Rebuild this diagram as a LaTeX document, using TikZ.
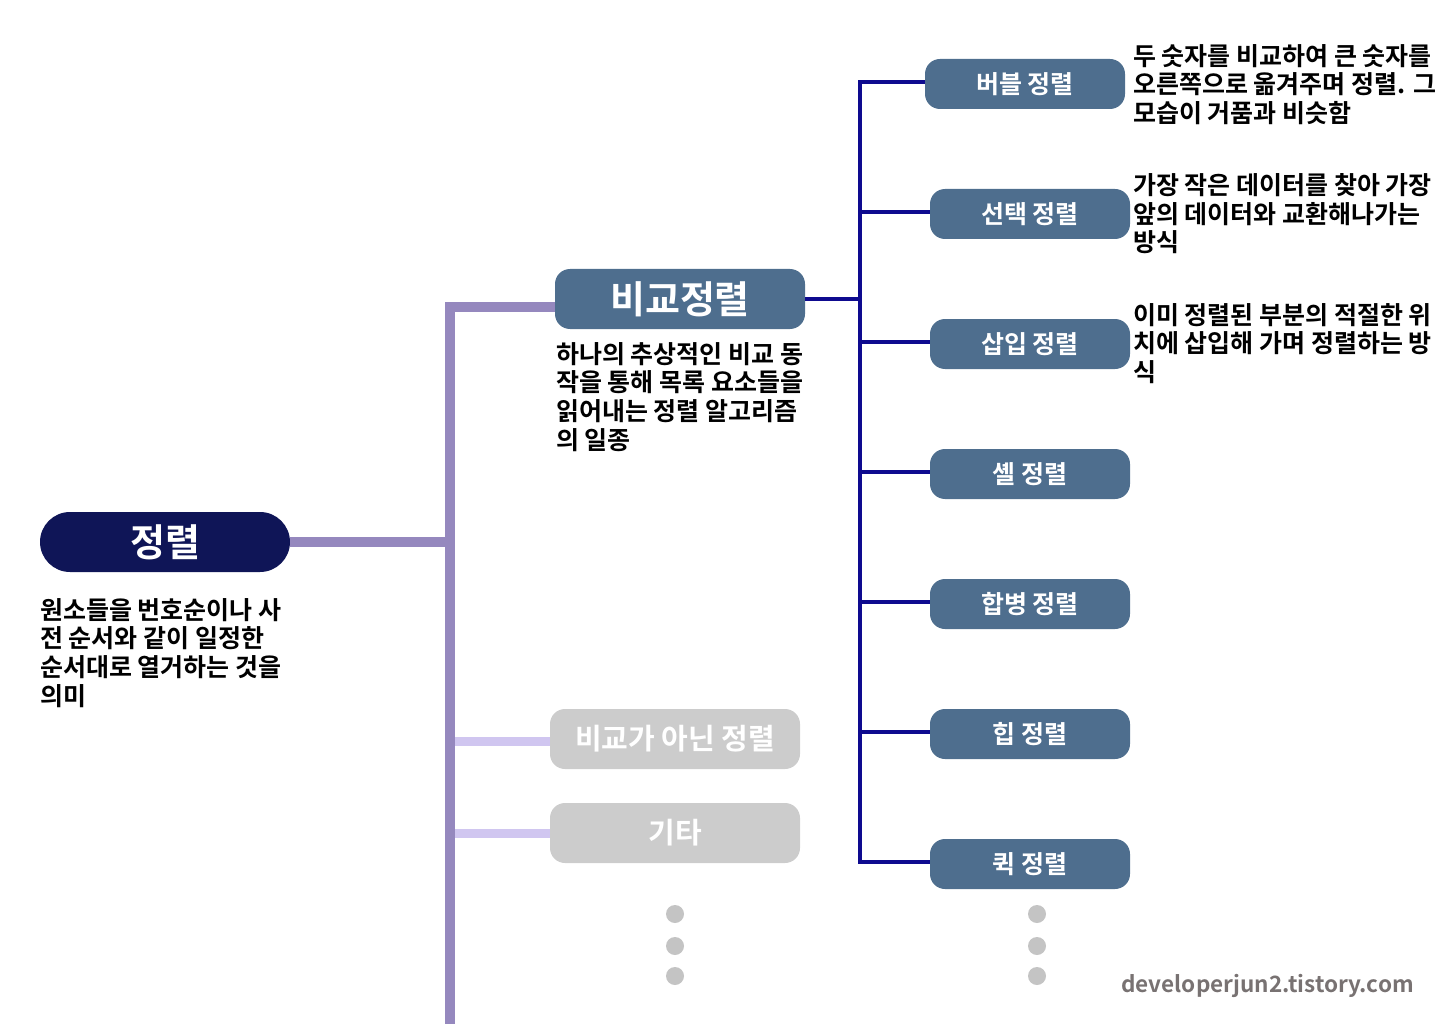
\documentclass[tikz,border=0pt]{standalone}
\usepackage{fontspec}
\setmainfont{Noto Sans CJK KR}[BoldFont={Noto Sans CJK KR Bold}]
\usetikzlibrary{positioning}
\definecolor{rootblue}{HTML}{0F1557}
\definecolor{slate}{HTML}{4E6E8E}
\definecolor{fadegray}{HTML}{CCCCCC}
\definecolor{trunkpurple}{HTML}{9588BE}
\definecolor{lavender}{HTML}{D0C6F0}
\definecolor{navyline}{HTML}{0E0A8F}
\definecolor{dotgray}{HTML}{C4C4C4}
\definecolor{markgray}{HTML}{787272}
\tikzset{root/.style = {fill = rootblue, text = white, rounded corners = 30,
    minimum width = 250, minimum height = 60, inner sep = 0,
    font = \bfseries\fontsize{38}{42}\selectfont}}
\tikzset{branch/.style = {fill = slate, text = white, rounded corners = 15,
    minimum width = 250, minimum height = 60, inner sep = 0,
    font = \bfseries\fontsize{38}{42}\selectfont}}
\tikzset{faded/.style = {fill = fadegray, text = white, rounded corners = 15,
    minimum width = 250, minimum height = 60, inner sep = 0,
    font = \bfseries\fontsize{29}{34}\selectfont}}
\tikzset{leaf/.style = {fill = slate, text = white, rounded corners = 15,
    minimum width = 200, minimum height = 50, inner sep = 0,
    font = \bfseries\fontsize{25}{30}\selectfont}}
\tikzset{note/.style = {anchor = north west, align = left, inner sep = 0,
    font = \bfseries\fontsize{25}{28.8}\selectfont}}
\tikzset{dot/.style = {fill = dotgray, circle, inner sep = 0, minimum size = 18}}

\begin{document}
\begin{tikzpicture}[x = 1pt, y = -1pt]
      \useasboundingbox (0, 0) rectangle (1440, 1024);

      % main topic
      \node [root] (sort) at (165, 542) {정렬};
      \node [note] (sortnote) at (40, 598) {원소들을 번호순이나 사\\전 순서와 같이 일정한\\순서대로 열거하는 것을\\의미};

      % second level
      \node [branch] (cmp) at (680, 299) {비교정렬};
      \node [note] (cmpnote) at (556, 342) {하나의 추상적인 비교 동\\작을 통해 목록 요소들을\\읽어내는 정렬 알고리즘\\의 일종};
      \node [faded] (noncmp) at (675, 739) {비교가 아닌 정렬};
      \node [faded] (etc) at (675, 833) {기타};

      % purple trunk
      \coordinate (ptop) at (450, 307);
      \coordinate (pbot) at (450, 1024);
      \draw [trunkpurple, line width = 10] (cmp.west |- ptop) -- (ptop) -- (pbot);
      \draw [trunkpurple, line width = 10] (sort.east) -- (sort.east -| ptop);
      \draw [lavender, line width = 9] (noncmp.west |- 455, 741) -- (455, 741);
      \draw [lavender, line width = 9] (etc.west) -- (etc.west -| 455, 0);

      % comparison sorts
      \node [leaf] (bubble) at (1025, 84) {버블 정렬};
      \node [leaf] (select) at (1030, 214) {선택 정렬};
      \node [leaf] (insert) at (1030, 344) {삽입 정렬};
      \node [leaf] (shell) at (1030, 474) {셸 정렬};
      \node [leaf] (merge) at (1030, 604) {합병 정렬};
      \node [leaf] (heap) at (1030, 734) {힙 정렬};
      \node [leaf] (quick) at (1030, 864) {퀵 정렬};

      \node [note] (bubblenote) at (1133, 44) {두 숫자를 비교하여 큰 숫자를\\오른쪽으로 옮겨주며 정렬. 그\\모습이 거품과 비슷함};
      \node [note] (selectnote) at (1133, 173) {가장 작은 데이터를 찾아 가장\\앞의 데이터와 교환해나가는\\방식};
      \node [note] (insertnote) at (1133, 303) {이미 정렬된 부분의 적절한 위\\치에 삽입해 가며 정렬하는 방\\식};

      % navy trunk
      \coordinate (ntop) at (860, 82);
      \coordinate (nbot) at (860, 862);
      \draw [navyline, line width = 4.5] (cmp.east) -- (cmp.east -| ntop);
      \draw [navyline, line width = 4.5, line cap = rect] (ntop) -- (nbot);
      \foreach \leaf in {bubble, select, insert, shell, merge, heap, quick}
        \draw [navyline, line width = 4.5] ([yshift = 2]\leaf.west) -- ([yshift = 2]ntop |- \leaf.west);

      % more
      \foreach \y in {914, 946, 976} {
        \node [dot] at (675, \y) {};
        \node [dot] at (1037, \y) {};
      }

      \node [anchor = east, text = markgray, inner sep = 0,
        font = \bfseries\fontsize{22.5}{26}\selectfont] (mark) at (1414, 986) {developerjun2.tistory.com};
    \end{tikzpicture}
\end{document}
